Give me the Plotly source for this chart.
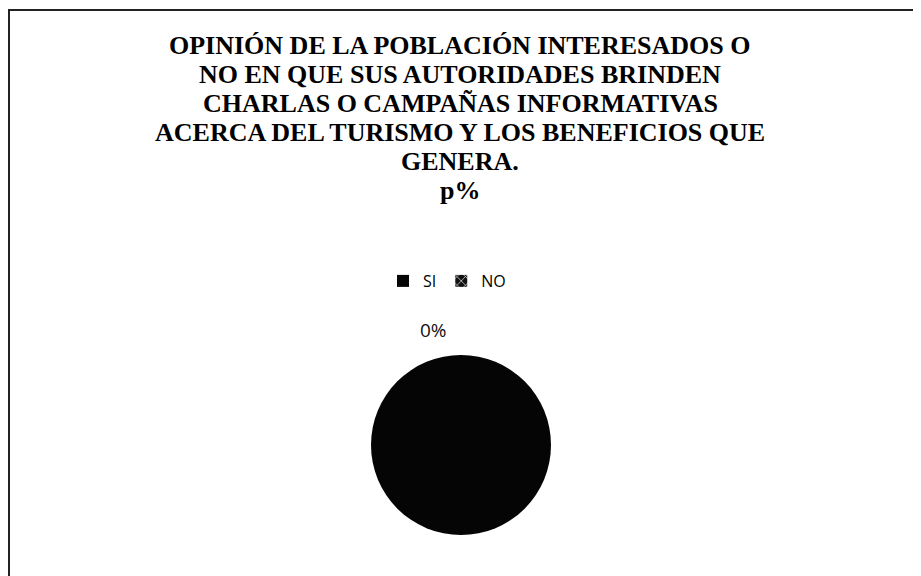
import plotly.graph_objects as go

# Datos
categorias = ['SI', 'NO']
valores = [100, 0]
colores = ['#050505', '#111111']

titulo_lineas = [
    'OPINIÓN DE LA POBLACIÓN INTERESADOS O',
    'NO EN QUE SUS AUTORIDADES BRINDEN',
    'CHARLAS O CAMPAÑAS INFORMATIVAS',
    'ACERCA DEL TURISMO Y LOS BENEFICIOS QUE',
    'GENERA.',
    'p%',
]

W, H = 921, 576
OFF = 8  # margen del body de la página


def px(x):
    return (x - OFF) / W


def py(y):
    return 1 - (y - OFF) / H


fig = go.Figure()
fig.add_trace(go.Pie(
    labels=categorias,
    values=valores,
    sort=False,
    direction='clockwise',
    rotation=0,
    marker=dict(colors=colores, line=dict(color='#050505', width=0),
                pattern=dict(shape=['', 'x'], fgcolor='white', bgcolor='#111111',
                             size=6, solidity=0.2)),
    textinfo='none',
    domain=dict(x=[px(461 - 90), px(461 + 90)], y=[py(535), py(355)]),
    showlegend=True,
))

# título: una línea por anotación (interlineado apretado como en el original)
for i, linea in enumerate(titulo_lineas):
    fig.add_annotation(
        text=f'<b>{linea}</b>', x=px(460), y=py(45 + 29 * i), xref='paper', yref='paper',
        xanchor='center', yanchor='middle', showarrow=False, borderpad=0,
        font=dict(family='Liberation Serif, Times New Roman, serif', size=26, color='#000'),
    )

# etiqueta del sector NO (0%), sobre el borde superior
total = sum(valores)
pct_no = round(100 * valores[1] / total)
fig.add_annotation(
    text=f'{pct_no}%', x=px(433), y=py(330), xref='paper', yref='paper',
    showarrow=False, font=dict(family='Open Sans, Liberation Sans, sans-serif', size=19, color='#111'),
)

# marco del gráfico (solo se ven los bordes izquierdo y superior)
fig.add_shape(type='rect', xref='paper', yref='paper',
              x0=px(9), x1=px(960), y0=py(620), y1=py(10),
              line=dict(color='#222', width=2), fillcolor='rgba(0,0,0,0)')

fig.update_layout(
    width=W, height=H,
    margin=dict(l=0, r=0, t=0, b=0),
    paper_bgcolor='white', plot_bgcolor='white',
    legend=dict(orientation='h', x=px(447), xanchor='center', y=py(281), yanchor='middle',
                font=dict(family='Open Sans, Liberation Sans, sans-serif', size=16, color='#000'),
                itemwidth=30, tracegroupgap=0),
)

fig.write_html('out.html')
